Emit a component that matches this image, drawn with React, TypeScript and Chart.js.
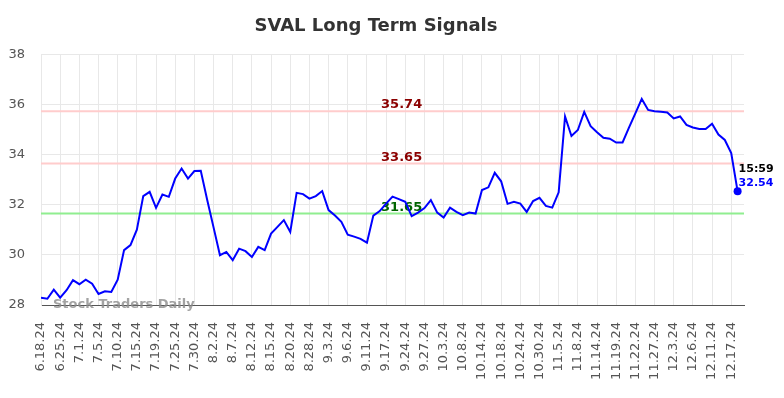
import { useEffect, useRef } from 'react';
import { Chart, registerables } from 'chart.js';

Chart.register(...registerables);

const chartTitle = 'SVAL Long Term Signals';

const tickLabels = [
  '6.18.24', '6.25.24', '7.1.24', '7.5.24', '7.10.24', '7.15.24', '7.19.24', '7.25.24',
  '7.30.24', '8.2.24', '8.7.24', '8.12.24', '8.15.24', '8.20.24', '8.28.24', '9.3.24',
  '9.6.24', '9.11.24', '9.17.24', '9.24.24', '9.27.24', '10.3.24', '10.8.24', '10.14.24',
  '10.18.24', '10.24.24', '10.30.24', '11.5.24', '11.8.24', '11.14.24', '11.19.24',
  '11.22.24', '11.27.24', '12.3.24', '12.6.24', '12.11.24', '12.17.24',
];

const prices = [
  28.29, 28.25, 28.61, 28.29, 28.59, 28.99, 28.83, 29.01, 28.85, 28.44, 28.55, 28.52, 29.01,
  30.19, 30.39, 31.01, 32.35, 32.52, 31.88, 32.41, 32.32, 33.05, 33.45, 33.05, 33.35, 33.36,
  32.2, 31.1,
  29.99, 30.12, 29.79, 30.25, 30.15, 29.92, 30.32, 30.19, 30.85, 31.12, 31.39, 30.92, 32.48,
  32.43, 32.25, 32.35, 32.55, 31.79, 31.57, 31.32, 30.81, 30.73, 30.64, 30.49, 31.57, 31.75,
  32.05, 32.33, 32.23, 32.12, 31.55, 31.69, 31.87, 32.19, 31.69, 31.49, 31.89, 31.72, 31.59,
  31.69, 31.65, 32.59, 32.7, 33.28, 32.94, 32.04,
  32.12, 32.05, 31.72, 32.15, 32.28, 31.96, 31.89, 32.5, 35.53, 34.75, 34.99, 35.71, 35.14,
  34.9, 34.68, 34.64, 34.49, 34.49, 35.08, 35.65, 36.23, 35.79, 35.74, 35.72, 35.69, 35.45,
  35.53, 35.19, 35.09, 35.03, 35.03, 35.24, 34.81, 34.59, 34.07, 32.54,
];

const signalLevels = [35.74, 33.65, 31.65];
const lastTime = '15:59';
const watermark = 'Stock Traders Daily';

const FONT = "'DejaVu Sans', sans-serif";
const signalLineColors = ['#ffcccc', '#ffcccc', '#90ee90'];
const signalTextColors = ['#8b0000', '#8b0000', '#006400'];

export default function App() {
  const canvasRef = useRef<HTMLCanvasElement>(null);

  useEffect(() => {
    if (!canvasRef.current) return;
    const lastIdx = prices.length - 1;

    const overlay = {
      id: 'overlay',
      beforeDatasetsDraw(chart: any) {
        const { ctx, chartArea: a, scales } = chart;
        const y = scales.y;
        ctx.save();
        signalLevels.forEach((lv, i) => {
          const py = y.getPixelForValue(lv);
          ctx.strokeStyle = signalLineColors[i];
          ctx.lineWidth = 2;
          ctx.beginPath();
          ctx.moveTo(a.left, py);
          ctx.lineTo(a.right, py);
          ctx.stroke();
          ctx.fillStyle = signalTextColors[i];
          ctx.font = `bold 13px ${FONT}`;
          ctx.textAlign = 'center';
          ctx.textBaseline = 'alphabetic';
          ctx.fillText(lv.toFixed(2), a.left + (a.right - a.left) * 0.513, py - 3);
        });
        ctx.font = `bold 13px ${FONT}`;
        ctx.fillStyle = 'rgba(140,140,140,0.8)';
        ctx.textAlign = 'left';
        ctx.textBaseline = 'alphabetic';
        ctx.fillText(watermark, a.left + 12, a.bottom + 2.5);
        ctx.restore();
      },
      afterDatasetsDraw(chart: any) {
        const { ctx } = chart;
        const pt = chart.getDatasetMeta(0).data[lastIdx];
        if (!pt) return;
        ctx.save();
        ctx.font = `bold 11px ${FONT}`;
        ctx.textAlign = 'left';
        ctx.textBaseline = 'alphabetic';
        ctx.fillStyle = '#000';
        ctx.fillText(lastTime, pt.x + 1, pt.y - 19.5);
        ctx.fillStyle = '#0000ff';
        ctx.fillText(prices[lastIdx].toFixed(2), pt.x + 1, pt.y - 5.5);
        ctx.restore();
      },
    };

    const chart = new Chart(canvasRef.current, {
      type: 'line',
      data: {
        datasets: [
          {
            data: prices.map((v, i) => ({ x: i, y: v })),
            borderColor: '#0000ff',
            backgroundColor: '#0000ff',
            borderWidth: 2,
            tension: 0,
            pointRadius: (c: any) => (c.dataIndex === lastIdx ? 4 : 0),
            pointBackgroundColor: '#0000ff',
            pointBorderWidth: 0,
          },
        ],
      },
      options: {
        animation: false,
        responsive: true,
        maintainAspectRatio: false,
        layout: { padding: { right: 32, bottom: 0, left: 0 }, autoPadding: false },
        plugins: {
          legend: { display: false },
          tooltip: { enabled: false },
          title: {
            display: true,
            text: chartTitle,
            color: '#333',
            font: { family: FONT, size: 18, weight: 'bold' },
            padding: { top: 8, bottom: 17 },
          },
        },
        scales: {
          x: {
            type: 'linear',
            min: 0,
            max: 110,
            afterBuildTicks: (axis: any) => {
              axis.ticks = tickLabels.map((_, k) => ({ value: k * 3 }));
            },
            afterFit: (axis: any) => {
              axis.height = 85;
            },
            ticks: {
              autoSkip: false,
              minRotation: 90,
              maxRotation: 90,
              padding: 17,
              color: '#555',
              font: { family: FONT, size: 13 },
              callback: (v: any) => tickLabels[Math.round(Number(v) / 3)] ?? '',
            },
            grid: { color: '#e8e8e8', drawTicks: false },
            border: { color: '#555', width: 1 },
          },
          y: {
            min: 28,
            max: 38,
            afterFit: (axis: any) => {
              axis.width = 33;
            },
            ticks: {
              stepSize: 2,
              padding: 16,
              color: '#555',
              font: { family: FONT, size: 13 },
            },
            grid: { color: '#e8e8e8', drawTicks: false },
            border: { color: '#e8e8e8' },
          },
        },
      } as any,
      plugins: [overlay],
    });
    return () => chart.destroy();
  }, []);

  return (
    <div style={{ position: 'relative', width: '768px', height: '382px' }}>
      <canvas ref={canvasRef} />
    </div>
  );
}
